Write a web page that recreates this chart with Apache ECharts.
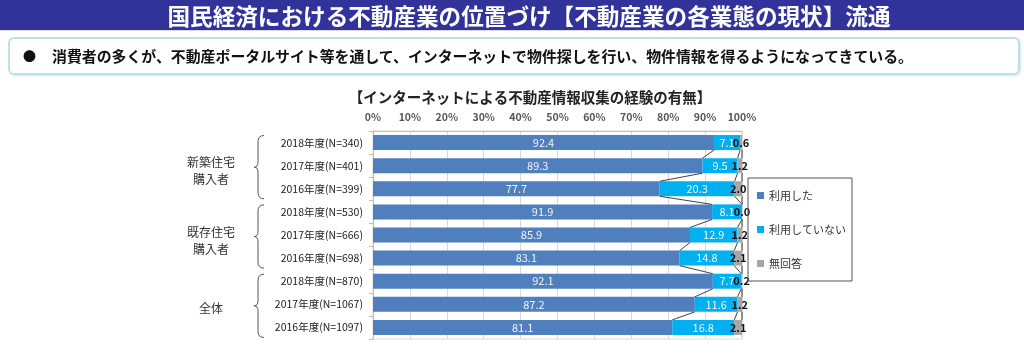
<!DOCTYPE html>
<html><head><meta charset="utf-8">
<script src="https://cdn.jsdelivr.net/npm/echarts@6/dist/echarts.min.js"></script>
<style>
html,body{margin:0;padding:0;width:1024px;height:356px;overflow:hidden;background:#fff;font-family:"Noto Sans CJK JP",sans-serif;}
#chart{position:absolute;left:0;top:0;width:1024px;height:356px;}
#hdr{position:absolute;left:0;top:0;width:1024px;height:31px;background:#31339a;color:#fff;font-weight:bold;font-size:22.6px;line-height:31px;text-align:center;box-sizing:border-box;padding-left:34px;border-bottom:1px solid #d8d8e0;white-space:nowrap;}
#sub{position:absolute;left:8px;top:37px;width:1008px;height:34px;border:2px solid #bde0e8;border-radius:6px;box-shadow:1px 1px 2px #d0e4ea;color:#111;font-weight:bold;font-size:14.9px;line-height:34px;}
#sub .b{position:absolute;left:13px;top:0;font-size:13px;}
#sub .t{position:absolute;left:42px;top:0;white-space:nowrap;}
</style></head>
<body>
<div id="chart"></div>
<div id="hdr">国民経済における不動産業の位置づけ【不動産業の各業態の現状】流通</div>
<div id="sub"><span class="b">●</span><span class="t">消費者の多くが、不動産ポータルサイト等を通して、インターネットで物件探しを行い、物件情報を得るようになってきている。</span></div>
<script>
const categories = ['2018年度(N=340)','2017年度(N=401)','2016年度(N=399)','2018年度(N=530)','2017年度(N=666)','2016年度(N=698)','2018年度(N=870)','2017年度(N=1067)','2016年度(N=1097)'];
const used = [92.4, 89.3, 77.7, 91.9, 85.9, 83.1, 92.1, 87.2, 81.1];
const notUsed = [7.1, 9.5, 20.3, 8.1, 12.9, 14.8, 7.7, 11.6, 16.8];
const noAnswer = [0.6, 1.2, 2.0, 0.0, 1.2, 2.1, 0.2, 1.2, 2.1];
const seriesNames = ['利用した','利用していない','無回答'];
const groupLabels = ['新築住宅\n購入者','既存住宅\n購入者','全体'];
const groupStart = [0, 3, 6];
const groupEnd = [2, 5, 8];
const chartTitle = '【インターネットによる不動産情報収集の経験の有無】';

const BAR = 0.65;
const lineData = [];
for (let i = 0; i < categories.length - 1; i++) {
  const a1 = used[i], b1 = used[i+1];
  const a2 = a1 + notUsed[i], b2 = b1 + notUsed[i+1];
  const a3 = a2 + noAnswer[i], b3 = b2 + noAnswer[i+1];
  lineData.push([i, a1, b1, a2, b2, Math.min(a3,100), Math.min(b3,100)]);
}

const chart = echarts.init(document.getElementById('chart'));
const fontFamily = '"Noto Sans CJK JP", sans-serif';
const option = {
  animation: false,
  textStyle: {fontFamily},
  title: {
    text: chartTitle, left: 525, top: 85, textAlign: 'center',
    textStyle: {fontSize: 14.5, fontWeight: 'bold', color: '#222', fontFamily}
  },
  legend: {
    orient: 'vertical', left: 748, top: 178,
    data: seriesNames,
    icon: 'rect', itemWidth: 7, itemHeight: 7, itemGap: 23,
    borderColor: '#555', borderWidth: 1, borderRadius: 0,
    padding: [12, 6, 12, 9],
    textStyle: {fontSize: 11, color: '#333', fontFamily}
  },
  grid: {left: 373, right: 282, top: 131, bottom: 17, show: true, borderColor: '#d9d9d9', borderWidth: 1},
  xAxis: {
    type: 'value', position: 'top', min: 0, max: 100, interval: 10,
    axisLabel: {formatter: '{value}%', fontSize: 10.5, color: '#555', margin: 9, fontWeight: 'bold'},
    axisLine: {show: true, lineStyle: {color: '#bfbfbf'}},
    axisTick: {show: false},
    splitLine: {show: true, lineStyle: {color: '#d9d9d9'}}
  },
  yAxis: {
    type: 'category', data: categories, inverse: true,
    axisLabel: {fontSize: 10.5, color: '#222', margin: 10},
    axisLine: {show: true, lineStyle: {color: '#bfbfbf'}},
    axisTick: {show: true, length: 4, lineStyle: {color: '#bfbfbf'}}
  },
  series: [
    {name: seriesNames[0], type: 'bar', stack: 'a', data: used, barWidth: (BAR*100)+'%',
     itemStyle: {color: '#4f7fbd'},
     label: {show: true, position: 'inside', color: '#f4f4f4', fontSize: 11, formatter: p => p.value.toFixed(1)}},
    {name: seriesNames[1], type: 'bar', stack: 'a', data: notUsed, barWidth: (BAR*100)+'%',
     itemStyle: {color: '#00b0f0'},
     label: {show: true, position: 'inside', color: '#f4f4f4', fontSize: 11, formatter: p => p.value.toFixed(1)}},
    {name: seriesNames[2], type: 'bar', stack: 'a', data: noAnswer, barWidth: (BAR*100)+'%',
     itemStyle: {color: '#a6a6a6'},
     label: {show: true, position: 'inside', color: '#111', fontSize: 11, fontWeight: 'bold', formatter: p => p.value.toFixed(1)}},
    {type: 'custom', name: 'series-lines', data: lineData, silent: true, z: 5,
     encode: {x: [1,2,3,4,5,6], y: 0},
     renderItem: function (params, api) {
       const i = api.value(0);
       const half = api.size([0, 1])[1] * BAR / 2;
       const children = [];
       for (let k = 0; k < 3; k++) {
         const p1 = api.coord([api.value(1 + 2*k), i]);
         const p2 = api.coord([api.value(2 + 2*k), i + 1]);
         children.push({type: 'line', shape: {x1: p1[0], y1: p1[1] + half, x2: p2[0], y2: p2[1] - half},
           style: {stroke: '#404040', lineWidth: 1}});
       }
       return {type: 'group', children};
     }}
  ]
};
chart.setOption(option);

// group labels and braces, positioned from the category axis
const graphics = [];
const braceStyle = {stroke: '#555', lineWidth: 1, fill: null};
for (let g = 0; g < groupLabels.length; g++) {
  const yTop = chart.convertToPixel({yAxisIndex: 0}, groupStart[g]) - 7;
  const yBot = chart.convertToPixel({yAxisIndex: 0}, groupEnd[g]) + 10;
  const yMid = (yTop + yBot) / 2;
  const xr = 264, xm = 258, xl = 254;
  graphics.push(
    {type: 'bezierCurve', shape: {x1: xr, y1: yTop, x2: xm, y2: yTop + 6, cpx1: xm, cpy1: yTop}, style: braceStyle},
    {type: 'line', shape: {x1: xm, y1: yTop + 6, x2: xm, y2: yMid - 5}, style: braceStyle},
    {type: 'bezierCurve', shape: {x1: xm, y1: yMid - 5, x2: xl, y2: yMid, cpx1: xm, cpy1: yMid}, style: braceStyle},
    {type: 'bezierCurve', shape: {x1: xl, y1: yMid, x2: xm, y2: yMid + 5, cpx1: xm, cpy1: yMid}, style: braceStyle},
    {type: 'line', shape: {x1: xm, y1: yMid + 5, x2: xm, y2: yBot - 6}, style: braceStyle},
    {type: 'bezierCurve', shape: {x1: xm, y1: yBot - 6, x2: xr, y2: yBot, cpx1: xm, cpy1: yBot}, style: braceStyle}
  );
  const multi = groupLabels[g].indexOf('\n') >= 0;
  graphics.push({type: 'text', x: 211, y: yMid + (multi ? 4 : 3),
    style: {text: groupLabels[g], fontSize: 12, fill: '#333', align: 'center', verticalAlign: 'middle', lineHeight: 17, fontFamily}});
}
chart.setOption({graphic: graphics});
</script>
</body></html>
